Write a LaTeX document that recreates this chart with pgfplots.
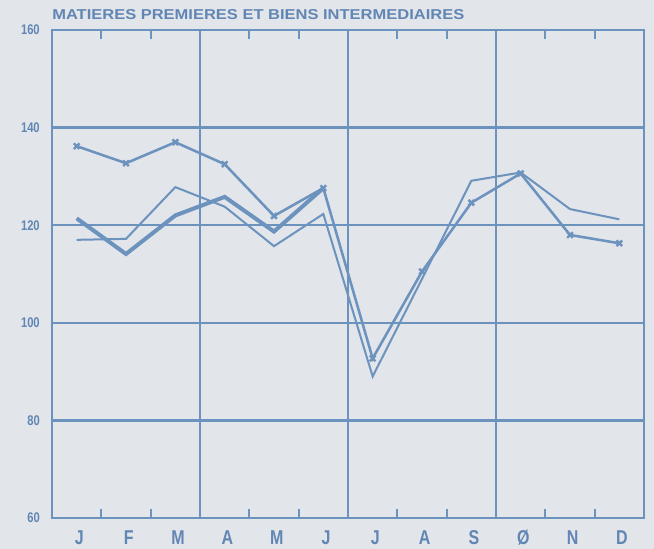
\documentclass[border=0pt]{standalone}
\usepackage{fontspec}
\setmainfont{Liberation Sans}
\newfontfamily\plotfont[FakeStretch=0.8]{Liberation Sans}
\usepackage{pgfplots}
\pgfplotsset{compat=1.18}
\definecolor{plotblue}{RGB}{108,146,190}
\definecolor{bgcol}{RGB}{226,229,234}
\definecolor{txtblue}{RGB}{98,134,180}
\begin{document}
\begin{tikzpicture}
\fill[bgcol] (-39pt,-23.25pt) rectangle (451.5pt,388.5pt);
\begin{axis}[
  name=ax,
  at={(0,0)}, anchor=south west,
  scale only axis, width=444pt, height=366pt,
  xmin=0, xmax=12, ymin=60, ymax=160,
  axis line style={plotblue, line width=2pt},
  xtick={0.5,1.5,...,11.5},
  xticklabels={J,F,M,A,M,J,J,A,S,Ø,N,D},
  major tick length=0pt,
  minor xtick={1,2,4,5,7,8,10,11},
  minor tick length=6.75pt,
  minor tick style={plotblue, line width=1.3pt},
  extra x ticks={3,6,9},
  extra x tick labels={},
  extra x tick style={grid=major, major tick length=0pt},
  ytick={60,80,...,160},
  ymajorgrids,
  grid style={plotblue, line width=1.7pt},
  tick align=inside,
  /pgf/number format/assume math mode=true,
  xticklabel style={anchor=north, inner sep=0pt, yshift=-9pt, xshift=2pt,
    font=\plotfont\bfseries\fontsize{15}{16}\selectfont, text=txtblue},
  yticklabel style={anchor=east, inner sep=0pt, xshift=-9pt,
    font=\plotfont\bfseries\fontsize{10.5}{11}\selectfont, text=txtblue},
]
% upper series with markers
\addplot[plotblue, line width=1.9pt, mark=x, mark size=3pt,
  mark options={line width=1.8pt}] coordinates {
  (0.5,136.2) (1.5,132.7) (2.5,137.0) (3.5,132.5) (4.5,121.9) (5.5,127.6)
  (6.5,92.7) (7.5,110.5) (8.5,124.6) (9.5,130.6) (10.5,118.0) (11.5,116.3)};
% thick series (Jan-Jun)
\addplot[plotblue, line width=3pt] coordinates {
  (0.5,121.4) (1.5,114.1) (2.5,122.0) (3.5,125.8) (4.5,118.7) (5.5,127.6)};
% thin series
\addplot[plotblue, line width=1.5pt] coordinates {
  (0.5,117.0) (1.5,117.2) (2.5,127.8) (3.5,123.8) (4.5,115.7) (5.5,122.3)
  (6.5,89.0) (7.5,109.0) (8.5,129.1) (9.5,130.8) (10.5,123.3) (11.5,121.2)};
\end{axis}
\node[anchor=south west, inner sep=0pt, text=txtblue] at ([yshift=7.5pt]ax.north west)
  {\resizebox{309pt}{7.5pt}{\plotfont\bfseries MATIERES PREMIERES ET BIENS INTERMEDIAIRES}};
\end{tikzpicture}
\end{document}
